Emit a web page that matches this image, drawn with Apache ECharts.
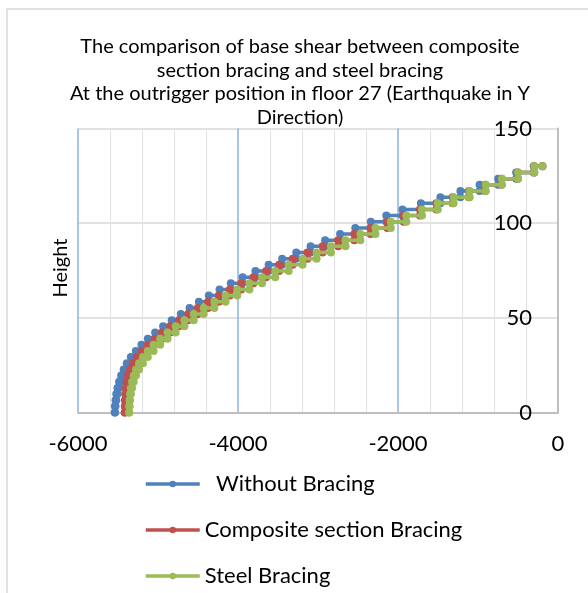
<!DOCTYPE html>
<html>
<head>
<meta charset="utf-8">
<script src="https://cdn.jsdelivr.net/npm/echarts@6/dist/echarts.min.js"></script>
<style>
html,body{margin:0;padding:0;background:#fff;}
#chart{width:588px;height:593px;}
</style>
</head>
<body>
<div id="chart"></div>
<script>
// Floor levels (m), base to roof
const levels = [0, 3.25, 6.5, 9.75, 13, 16.25, 19.5, 22.75, 26, 29.25, 32.5, 35.75, 39, 42.25, 45.5, 48.75, 52, 55.25, 58.5, 61.75, 65, 68.25, 71.5, 74.75, 78, 81.25, 84.5, 87.75, 91, 94.25, 97.5, 100.75, 104, 107.25, 110.5, 113.75, 117, 120.25, 123.5, 126.75, 130];

// Shear values: base, story 1 ... story 40, roof
const withoutBracing = [-5540, -5538, -5531, -5521, -5507, -5487, -5461, -5429, -5390, -5339, -5277, -5207, -5127, -5036, -4936, -4829, -4715, -4606, -4489, -4365, -4231, -4090, -3943, -3782, -3617, -3448, -3272, -3093, -2911, -2724, -2534, -2340, -2146, -1944, -1714, -1470, -1220, -980, -748, -523, -304, -195];
const compositeBracing = [-5416, -5415, -5413, -5410, -5403, -5392, -5375, -5350, -5312, -5263, -5202, -5128, -5044, -4951, -4849, -4740, -4624, -4503, -4375, -4240, -4102, -3959, -3808, -3649, -3486, -3317, -3132, -2942, -2748, -2547, -2343, -2134, -1930, -1726, -1521, -1317, -1114, -909, -706, -501, -297, -195];
const steelBracing = [-5360, -5359, -5355, -5349, -5339, -5324, -5303, -5275, -5237, -5188, -5127, -5055, -4973, -4881, -4779, -4670, -4553, -4428, -4295, -4155, -4009, -3857, -3698, -3534, -3366, -3193, -3017, -2838, -2656, -2470, -2282, -2090, -1896, -1700, -1503, -1304, -1104, -903, -701, -499, -296, -195];

const seriesNames = ['Without Bracing', 'Composite section Bracing', 'Steel Bracing'];
const xTicks = [-6000, -4000, -2000, 0];
const yTicks = [0, 50, 100, 150];
const titleText = 'The comparison of base shear between composite\nsection bracing and steel bracing\nAt the outrigger position in floor 27 (Earthquake in Y\nDirection)';
const yAxisTitle = 'Height';

// Build staircase points (top to bottom): at each level, shear of story above then story below
function staircase(shear) {
  const pts = [];
  for (let k = levels.length - 1; k >= 0; k--) {
    pts.push([shear[k + 1], levels[k]]);
    pts.push([shear[k], levels[k]]);
  }
  return pts;
}

const colors = ['#4F81BD', '#C0504D', '#9BBB59'];
const datasets = [withoutBracing, compositeBracing, steelBracing];
const FONT = 'Lato, "Open Sans", sans-serif';

const chart = echarts.init(document.getElementById('chart'), null, {renderer: 'canvas'});
chart.setOption({
  animation: false,
  backgroundColor: '#fff',
  graphic: [
    {type: 'rect', shape: {x: 7, y: 9, width: 640, height: 640}, style: {fill: 'none', stroke: '#d9d9d9', lineWidth: 1.5}, z: -10, silent: true},
    {type: 'text', x: 300, y: 35, z: 10,
     style: {text: titleText, font: '20px Lato, sans-serif', fill: '#000', lineHeight: 23.5,
             align: 'center', verticalAlign: 'top', textAlign: 'center', textVerticalAlign: 'top'}},
    {type: 'text', x: 61, y: 268, rotation: Math.PI / 2, z: 10,
     style: {text: yAxisTitle, font: '20px Lato, sans-serif', fill: '#000', align: 'center', verticalAlign: 'middle', textAlign: 'center', textVerticalAlign: 'middle'}}
  ],
  legend: {
    orient: 'vertical',
    left: 144,
    top: 472,
    padding: 0,
    itemWidth: 54,
    itemHeight: 8,
    itemGap: 22,
    data: seriesNames,
    lineStyle: {width: 3.5},
    formatter: n => (n === seriesNames[0] ? '  ' + n : n),
    textStyle: {fontFamily: FONT, fontSize: 22, color: '#000', lineHeight: 24}
  },
  grid: {left: 78, right: 30, top: 128.5, bottom: 180.5, containLabel: false},
  xAxis: {
    type: 'value',
    min: xTicks[0], max: xTicks[xTicks.length - 1], interval: 2000,
    axisLine: {show: true, onZero: false, lineStyle: {color: '#bfbfbf', width: 2}},
    axisTick: {show: false},
    axisLabel: {fontFamily: FONT, fontSize: 22, color: '#000', margin: 20, formatter: v => String(v)},
    splitLine: {show: true, lineStyle: {color: '#8db3e2', width: 1.5}},
    minorTick: {show: false, splitNumber: 5},
    minorSplitLine: {show: true, lineStyle: {color: '#e4e4e4', width: 1.2}}
  },
  yAxis: {
    type: 'value',
    position: 'right',
    min: yTicks[0], max: yTicks[yTicks.length - 1], interval: 50,
    axisLine: {show: true, onZero: false, lineStyle: {color: '#bfbfbf', width: 2}},
    axisTick: {show: false},
    axisLabel: {inside: true, margin: 26, fontFamily: FONT, fontSize: 22, color: '#000', formatter: v => String(v)},
    splitLine: {show: true, lineStyle: {color: '#d9d9d9', width: 1.5}}
  },
  series: datasets.map((d, i) => ({
    name: seriesNames[i],
    type: 'line',
    data: staircase(d),
    symbol: 'circle',
    symbolSize: 8,
    showAllSymbol: true,
    color: colors[i],
    lineStyle: {width: 3.5, color: colors[i]},
    itemStyle: {color: colors[i]},
    z: 2 + i
  }))
});
</script>
</body>
</html>
